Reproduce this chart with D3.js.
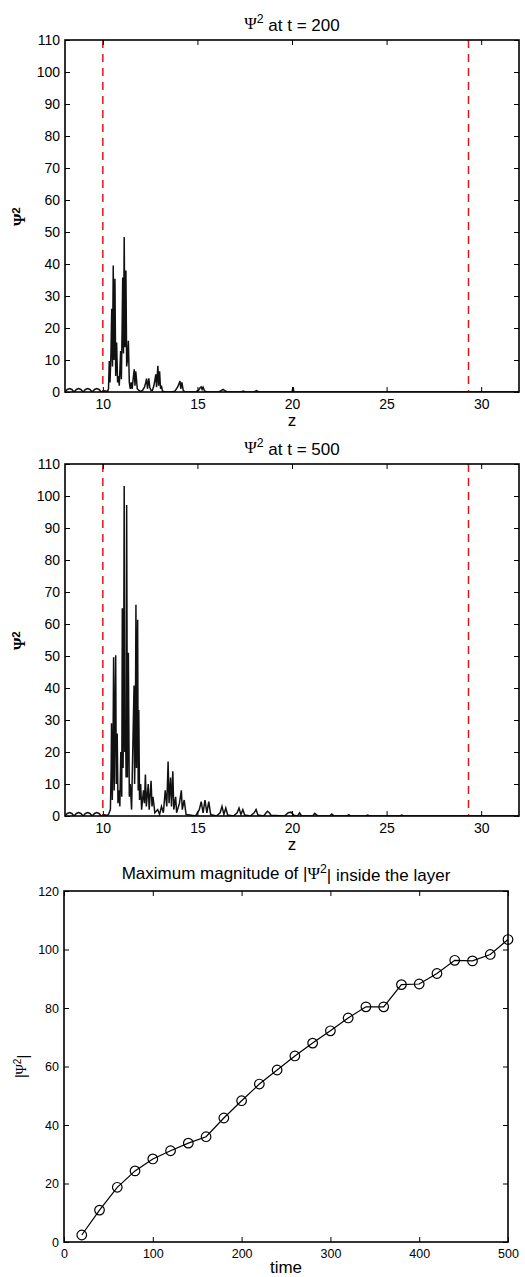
<!DOCTYPE html>
<html>
<head>
<meta charset="utf-8">
<script src="https://cdn.jsdelivr.net/npm/d3@7"></script>
<style>
  body { margin: 0; background: #fff; }
  text { font-family: "Liberation Sans", Arial, Helvetica, sans-serif; fill: #000; }
</style>
</head>
<body>
<div id="chart"></div>
<script>
// ---- data ----
const layerEdges = [10, 29.33];
const zTicks = [10, 15, 20, 25, 30];
const psiTicks = [0, 10, 20, 30, 40, 50, 60, 70, 80, 90, 100, 110];

// small arches before the layer (same in both snapshots)
const zPre = [8.0, 8.12, 8.24, 8.36, 8.48, 8.6, 8.72, 8.84, 8.96, 9.08, 9.2, 9.32, 9.44, 9.56, 9.68, 9.8, 9.92, 10.1, 10.25];
const psiPre = [0.1, 0.8, 1.1, 0.8, 0, 0.8, 1.1, 0.8, 0, 0.8, 1.1, 0.8, 0, 0.8, 1.1, 0.8, 0, 0.4, 0.2];

// t = 200 (peaks and troughs)
const z200 = [10.3, 10.34, 10.38, 10.43, 10.47, 10.51, 10.55, 10.59, 10.64, 10.68, 10.73, 10.78, 10.83, 10.87,
  10.91, 10.94, 10.98, 11.02, 11.05, 11.09, 11.13, 11.17, 11.22, 11.26, 11.3, 11.35, 11.4, 11.45, 11.5, 11.55,
  11.62, 11.66, 11.7, 11.74, 11.78, 11.82, 11.9, 12.0, 12.1, 12.2, 12.27, 12.31, 12.36, 12.43, 12.48, 12.55,
  12.62, 12.7, 12.76, 12.8, 12.84, 12.91, 12.95, 13.0, 13.05, 13.1, 13.15, 13.3, 13.6, 13.8, 13.95, 14.02,
  14.08, 14.12, 14.18, 14.25, 14.35, 14.9, 15.05, 15.15, 15.2, 15.25, 15.3, 15.38, 15.5, 16.1, 16.25, 16.36,
  16.48, 16.6, 17.3, 17.42, 17.55, 18.0, 18.12, 18.25, 20.0, 20.06, 20.1, 32];
const psi200 = [1, 9.7, 3, 12, 26, 8, 39.5, 10, 35.4, 5, 15.5, 3, 5, 2,
  8, 12.8, 4, 20, 35.8, 12, 48.4, 14, 38, 8, 10, 16, 3, 1, 3, 1,
  5, 7.1, 2, 6.5, 4, 1, 0.5, 0.2, 0.5, 1.5, 3, 4.2, 1, 4.3, 1.5, 0.5,
  0.5, 2, 4, 5.5, 1.5, 8.2, 2, 6.5, 1, 2, 0.3, 0, 0, 0.2, 1.5, 2.5,
  3.4, 1, 3, 0.5, 0, 0, 0.5, 1.4, 1.6, 0.8, 1.5, 0.3, 0, 0, 0.4, 0.8,
  0.3, 0, 0, 0.3, 0, 0, 0.4, 0, 0, 1.5, 0, 0];

// t = 500 (peaks and troughs)
const z500 = [10.3, 10.4, 10.44, 10.46, 10.5, 10.54, 10.57, 10.6, 10.64, 10.68, 10.71, 10.76, 10.8, 10.86,
  10.9, 10.95, 11.0, 11.03, 11.07, 11.1, 11.13, 11.16, 11.2, 11.23, 11.26, 11.3, 11.35, 11.4, 11.45, 11.52, 11.58, 11.65,
  11.68, 11.72, 11.75, 11.78, 11.84, 11.87, 11.9, 11.94, 12.0, 12.05, 12.15, 12.2, 12.25, 12.3, 12.4, 12.45, 12.55, 12.6,
  12.65, 12.75, 12.9, 13.0, 13.1, 13.2, 13.3, 13.38, 13.45, 13.5, 13.58, 13.63, 13.7, 13.75, 13.85, 13.9,
  14.05, 14.15, 14.2, 14.3, 14.4, 14.6, 14.9, 15.1, 15.2, 15.3, 15.4, 15.5, 15.6, 15.7, 16.0, 16.2, 16.3, 16.4,
  16.5, 16.6, 16.9, 17.1, 17.2, 17.3, 17.4, 17.5, 17.8, 18.0, 18.1, 18.2, 18.5, 18.7, 18.8, 18.9, 19.6, 19.8, 19.95, 20.1,
  20.3, 20.4, 20.5, 21.1, 21.2, 21.35, 22.0, 22.1, 22.2, 22.9, 23.0, 23.1, 23.9, 24.0, 24.1, 25.7, 25.8, 25.9, 32];
const psi500 = [0.5, 2, 15, 29, 5, 22, 49.6, 8, 30, 50.2, 10, 25.8, 4, 8,
  3, 20, 6, 64.9, 15, 40, 103.1, 20, 30, 12, 97.2, 12, 51, 6, 10, 2, 20, 40.8,
  10, 25, 66, 15, 61.3, 8, 33.1, 5, 10, 2, 8, 4, 13, 3, 10, 2, 11, 3,
  6, 1, 2, 0.5, 3, 1, 8, 3, 17, 4, 12, 3, 14, 2, 6, 1,
  4, 8, 2, 5, 0.5, 0.3, 0, 2, 4.5, 1, 5, 1, 4.5, 0.5, 0, 1, 3, 0.5,
  2.5, 0.3, 0, 1, 2.5, 0.5, 2, 0.3, 0, 1, 2, 0.3, 0, 1.5, 1, 0.2, 0, 1, 1.2, 0.2,
  0, 1, 0.1, 0, 0.8, 0.1, 0, 0.6, 0.1, 0, 0.4, 0, 0, 0.3, 0, 0, 0.3, 0, 0];

// maximum inside the layer vs time
const times = [20, 40, 60, 80, 100, 120, 140, 160, 180, 200, 220, 240, 260, 280, 300, 320, 340, 360, 380, 400, 420, 440, 460, 480, 500];
const maxPsi = [2.4, 10.9, 18.7, 24.3, 28.4, 31.2, 33.8, 36, 42.4, 48.3, 54, 58.8, 63.6, 68, 72.2, 76.6, 80.4, 80.4, 88, 88.2, 91.8, 96.3, 96.1, 98.3, 103.4];
const timeTicks = [0, 100, 200, 300, 400, 500];
const maxTicks = [0, 20, 40, 60, 80, 100, 120];

const W = 525, H = 1277;
const svg = d3.select("#chart").append("svg").attr("width", W).attr("height", H);

// text with a serif Psi carrying a superscript 2
function psiText(sel, before, after) {
    if (before) sel.append("tspan").text(before);
    sel.append("tspan").style("font-family", "'Liberation Serif', 'Times New Roman', serif").text("Ψ");
    sel.append("tspan").attr("dy", "-0.45em").style("font-size", "0.72em").text("2");
    sel.append("tspan").attr("dy", "0.45em").text(after || "\u200a");
}

function frame(g, x, y, xt, yt, fs, box) {
    const [x0, x1] = x.range();
    const [y0, y1] = y.range();
    g.append("g").attr("transform", `translate(0,${y0})`)
        .call(d3.axisBottom(x).tickValues(xt).tickSize(-5).tickPadding(7))
        .call(a => a.selectAll("text").style("font-size", fs + "px"));
    g.append("g").attr("transform", `translate(0,${y1})`)
        .call(d3.axisTop(x).tickValues(xt).tickSize(-5).tickFormat(""));
    g.append("g").attr("transform", `translate(${x0},0)`)
        .call(d3.axisLeft(y).tickValues(yt).tickSize(-5).tickPadding(5))
        .call(a => a.selectAll("text").style("font-size", fs + "px"));
    g.append("g").attr("transform", `translate(${x1},0)`)
        .call(d3.axisRight(y).tickValues(yt).tickSize(-5).tickFormat(""));
    g.selectAll(".domain").remove();
    g.selectAll(".tick line").attr("stroke", "#000").attr("stroke-width", 1);
    g.append("rect").attr("x", x0).attr("y", y1).attr("width", x1 - x0).attr("height", y0 - y1)
        .attr("fill", "none").attr("stroke", "#000").attr("stroke-width", box);
}

function profile(top, zs, ps, title, id) {
    const left = 65, right = 519, bottom = top + 352;
    const x = d3.scaleLinear().domain([8, 32]).range([left, right]);
    const y = d3.scaleLinear().domain([0, 110]).range([bottom, top]);
    const g = svg.append("g");

    g.append("clipPath").attr("id", id).append("rect")
        .attr("x", left).attr("y", top).attr("width", right - left).attr("height", bottom - top);

    const pts = zPre.map((z, i) => [z, psiPre[i]]).concat(zs.map((z, i) => [z, ps[i]]));
    g.append("path").datum(pts)
        .attr("clip-path", `url(#${id})`)
        .attr("fill", "none").attr("stroke", "#111").attr("stroke-width", 1.5)
        .attr("d", d3.line().x(d => x(d[0])).y(d => y(d[1])));

    g.selectAll(".edge").data(layerEdges).enter().append("line")
        .attr("x1", d => x(d)).attr("x2", d => x(d))
        .attr("y1", top).attr("y2", bottom)
        .attr("stroke", "#e0161b").attr("stroke-width", 1.5)
        .attr("stroke-dasharray", "8,6");

    frame(g, x, y, zTicks, psiTicks, 14, 1.6);

    g.append("text").attr("x", (left + right) / 2).attr("y", top - 11)
        .attr("text-anchor", "middle").style("font-size", "17px")
        .call(psiText, "", " at t = " + title);
    g.append("text").attr("x", (left + right) / 2).attr("y", bottom + 34)
        .attr("text-anchor", "middle").style("font-size", "17px").text("z");
    g.append("text").attr("transform", `translate(25,${(top + bottom) / 2}) rotate(-90)`)
        .attr("text-anchor", "middle").style("font-size", "16px").style("font-weight", "bold")
        .call(psiText, "", "");
}

profile(40, z200, psi200, "200", "clip200");
profile(464, z500, psi500, "500", "clip500");

// bottom panel
{
    const left = 64, right = 508, top = 891, bottom = 1242;
    const x = d3.scaleLinear().domain([0, 500]).range([left, right]);
    const y = d3.scaleLinear().domain([0, 120]).range([bottom, top]);
    const g = svg.append("g");
    frame(g, x, y, timeTicks, maxTicks, 12.5, 1.6);

    const pts = times.map((t, i) => [t, maxPsi[i]]);
    g.append("path").datum(pts)
        .attr("fill", "none").attr("stroke", "#000").attr("stroke-width", 1.2)
        .attr("d", d3.line().x(d => x(d[0])).y(d => y(d[1])));
    g.selectAll("circle").data(pts).enter().append("circle")
        .attr("cx", d => x(d[0])).attr("cy", d => y(d[1])).attr("r", 4.8)
        .attr("fill", "none").attr("stroke", "#000").attr("stroke-width", 1.2);

    g.append("text").attr("x", (left + right) / 2).attr("y", top - 12)
        .attr("text-anchor", "middle").style("font-size", "17px")
        .call(psiText, "Maximum magnitude of |", "| inside the layer");
    g.append("text").attr("x", (left + right) / 2).attr("y", bottom + 31)
        .attr("text-anchor", "middle").style("font-size", "17px").text("time");
    g.append("text").attr("transform", `translate(26,${(top + bottom) / 2}) rotate(-90)`)
        .attr("text-anchor", "middle").style("font-size", "14px")
        .call(psiText, "|", "|");
}
</script>
</body>
</html>
